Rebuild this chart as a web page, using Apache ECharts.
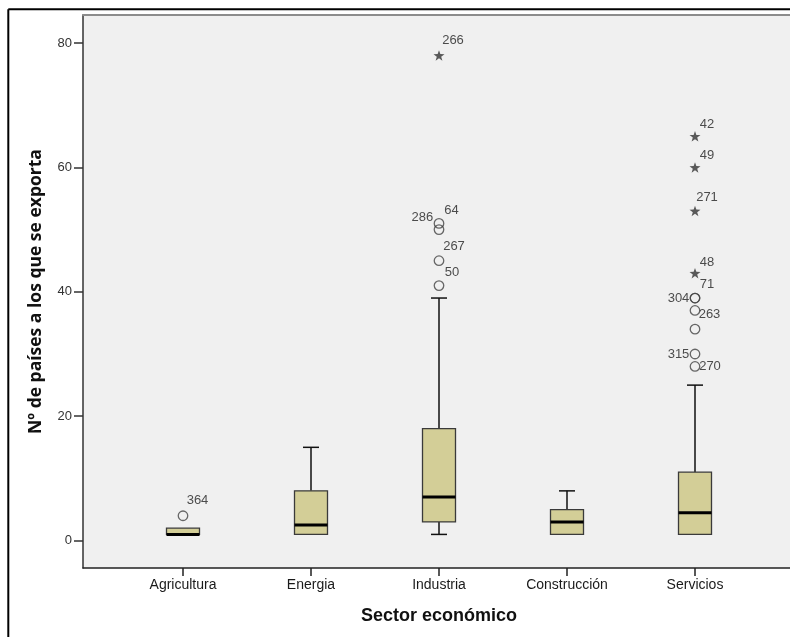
<!DOCTYPE html>
<html>
<head>
<meta charset="utf-8">
<script src="https://cdn.jsdelivr.net/npm/echarts@6/dist/echarts.min.js"></script>
<style>
html,body{margin:0;padding:0;background:#fff;}
#chart{width:790px;height:637px;}
</style>
</head>
<body>
<div id="chart"></div>
<script>
// ---- data ----
const categories = ['Agricultura', 'Energia', 'Industria', 'Construcción', 'Servicios'];
const whiskerLow  = [1, 1, 1, 1, 1];
const quartile1   = [1, 1, 3, 1, 1];
const medians     = [1, 2.5, 7, 3, 4.5];
const quartile3   = [2, 8, 18, 5, 11];
const whiskerHigh = [2, 15, 39, 8, 25];

const outlierCategory = ['Agricultura', 'Industria', 'Industria', 'Industria', 'Industria', 'Industria',
  'Servicios', 'Servicios', 'Servicios', 'Servicios', 'Servicios', 'Servicios', 'Servicios', 'Servicios', 'Servicios', 'Servicios'];
const outlierValue = [4, 41, 45, 50, 51, 78, 28, 30, 34, 37, 39, 39, 43, 53, 60, 65];
const outlierCase  = ['364', '50', '267', '286', '64', '266', '270', '315', '', '263', '304', '71', '48', '271', '49', '42'];
const outlierExtreme = [false, false, false, false, false, true, false, false, false, false, false, false, true, true, true, true];

const yTicks = [0, 20, 40, 60, 80];

// ---- styles ----
const labelOffsets = {
  '364': [14.5, -15], '266': [14, -15], '64': [12.5, -13], '286': [-16.6, -12.3],
  '267': [15, -14], '50': [13, -13], '42': [12, -11.4], '49': [12, -12.3],
  '271': [12, -13.7], '48': [12, -11], '71': [12, -14], '304': [-16.5, 0],
  '263': [14.5, 3.7], '315': [-16.5, 0], '270': [15, 0]
};
const FONT = '"Liberation Sans", Arial, sans-serif';
const TITLE_FONT = '"Open Sans", "Noto Sans", sans-serif';
const BOX_FILL = '#d3ce97';
const STAR = 'path://M0,-1 L0.235,-0.324 L0.951,-0.309 L0.38,0.124 L0.588,0.809 L0,0.4 L-0.588,0.809 L-0.38,0.124 L-0.951,-0.309 L-0.235,-0.324 Z';

const boxData = categories.map((c, i) => [i, whiskerLow[i], quartile1[i], medians[i], quartile3[i], whiskerHigh[i]]);

function outlierPoints(extreme) {
  const out = [];
  outlierValue.forEach((v, i) => {
    if (outlierExtreme[i] !== extreme) return;
    const id = outlierCase[i];
    const off = labelOffsets[id] || [0, 0];
    out.push({
      value: [categories.indexOf(outlierCategory[i]), v],
      name: id,
      label: { show: id !== '', offset: off }
    });
  });
  return out;
}

const yMin = -4.4, yMax = 84.5;
const chart = echarts.init(document.getElementById('chart'), null, { renderer: 'canvas' });

const option = {
  animation: false,
  backgroundColor: '#ffffff',
  grid: [
    { left: 83, right: 0, top: 15, height: 553, show: true, backgroundColor: '#f0f0f0', borderWidth: 0 },
    { left: 119, width: 640, top: 15, height: 553, show: false }
  ],
  xAxis: [
    { gridIndex: 0, type: 'value', min: 0, max: 1, position: 'bottom',
      axisLine: { show: true, onZero: false, lineStyle: { color: '#222', width: 1.5 } },
      axisTick: { show: false }, axisLabel: { show: false }, splitLine: { show: false } },
    { gridIndex: 0, type: 'value', min: 0, max: 1, position: 'top',
      axisLine: { show: true, onZero: false, lineStyle: { color: '#8c8c8c', width: 2 } },
      axisTick: { show: false }, axisLabel: { show: false }, splitLine: { show: false } },
    { gridIndex: 1, type: 'category', data: categories, boundaryGap: true, position: 'bottom',
      axisLine: { show: false, onZero: false },
      axisTick: { show: true, alignWithLabel: true, length: 8, lineStyle: { color: '#222', width: 1.5 } },
      axisLabel: { fontFamily: FONT, fontSize: 14, color: '#1a1a1a', margin: 10 },
      name: 'Sector económico', nameLocation: 'middle', nameGap: 39,
      nameTextStyle: { fontFamily: FONT, fontSize: 18, fontWeight: 'bold', color: '#111' } }
  ],
  yAxis: [
    { gridIndex: 0, type: 'value', min: yMin, max: yMax,
      axisLine: { show: true, onZero: false, lineStyle: { color: '#333', width: 1.5 } },
      axisTick: { show: true, length: 9, customValues: yTicks, lineStyle: { color: '#333', width: 1.5 } },
      axisLabel: { customValues: yTicks, fontFamily: FONT, fontSize: 13, color: '#333', margin: 11 },
      splitLine: { show: false },
      name: 'Nº de países a los que se exporta', nameLocation: 'middle', nameGap: 38,
      nameTextStyle: { fontFamily: TITLE_FONT, fontSize: 17.5, fontWeight: 'bold', color: '#111' } },
    { gridIndex: 1, type: 'value', min: yMin, max: yMax, show: false }
  ],
  graphic: [
    { type: 'line', shape: { x1: 8.3, y1: 9.3, x2: 8.3, y2: 637 }, style: { stroke: '#000', lineWidth: 2 }, silent: true },
    { type: 'line', shape: { x1: 8.3, y1: 9.3, x2: 790, y2: 9.3 }, style: { stroke: '#000', lineWidth: 2 }, silent: true }
  ],
  series: [
    {
      type: 'custom', xAxisIndex: 2, yAxisIndex: 1, data: boxData,
      encode: { x: 0, y: [1, 2, 3, 4, 5] },
      renderItem: function (params, api) {
        const i = api.value(0);
        const low = api.coord([i, api.value(1)]);
        const q1 = api.coord([i, api.value(2)]);
        const med = api.coord([i, api.value(3)]);
        const q3 = api.coord([i, api.value(4)]);
        const high = api.coord([i, api.value(5)]);
        const cx = low[0];
        const bw = 33, cw = 16;
        const lineStyle = { stroke: '#111', lineWidth: 1.5 };
        const children = [];
        if (high[1] < q3[1]) {
          children.push({ type: 'line', shape: { x1: cx, y1: high[1], x2: cx, y2: q3[1] }, style: lineStyle });
          children.push({ type: 'line', shape: { x1: cx - cw / 2, y1: high[1], x2: cx + cw / 2, y2: high[1] }, style: lineStyle });
        }
        if (low[1] > q1[1]) {
          children.push({ type: 'line', shape: { x1: cx, y1: q1[1], x2: cx, y2: low[1] }, style: lineStyle });
          children.push({ type: 'line', shape: { x1: cx - cw / 2, y1: low[1], x2: cx + cw / 2, y2: low[1] }, style: lineStyle });
        }
        children.push({ type: 'rect', shape: { x: cx - bw / 2, y: q3[1], width: bw, height: q1[1] - q3[1] },
          style: { fill: BOX_FILL, stroke: '#3a3a3a', lineWidth: 1.3 } });
        children.push({ type: 'line', shape: { x1: cx - bw / 2, y1: med[1], x2: cx + bw / 2, y2: med[1] },
          style: { stroke: '#000', lineWidth: 3 } });
        return { type: 'group', children: children };
      },
      z: 2
    },
    {
      type: 'scatter', xAxisIndex: 2, yAxisIndex: 1, data: outlierPoints(false),
      symbol: 'circle', symbolSize: 9.5,
      itemStyle: { color: 'rgba(0,0,0,0)', borderColor: '#444', borderWidth: 1.3 },
      label: { show: true, position: 'inside', formatter: '{b}', fontFamily: FONT, fontSize: 13, color: '#222', align: 'center', verticalAlign: 'middle' },
      emphasis: { disabled: true }, z: 3
    },
    {
      type: 'scatter', xAxisIndex: 2, yAxisIndex: 1, data: outlierPoints(true),
      symbol: STAR, symbolSize: 11, symbolKeepAspect: true,
      itemStyle: { color: '#333' },
      label: { show: true, position: 'inside', formatter: '{b}', fontFamily: FONT, fontSize: 13, color: '#222', align: 'center', verticalAlign: 'middle' },
      emphasis: { disabled: true }, z: 3
    }
  ]
};
chart.setOption(option);
</script>
</body>
</html>
